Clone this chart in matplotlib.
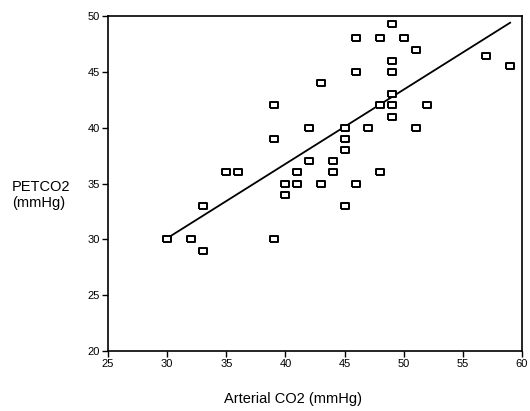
import matplotlib
matplotlib.use("Agg")
import matplotlib.pyplot as plt

plt.rcParams['font.family'] = ['Liberation Sans', 'DejaVu Sans']

# Data
arterial_co2 = [30, 32, 33, 33, 35, 36, 39, 39, 39, 40, 40, 41, 41, 42, 42,
                43, 43, 44, 44, 45, 45, 45, 45, 46, 46, 46, 47, 48, 48, 48,
                49, 49, 49, 49, 49, 49, 50, 51, 51, 52, 57, 59]
petco2 = [30, 30, 29, 33, 36, 36, 42, 39, 30, 35, 34, 36, 35, 40, 37,
          44, 35, 37, 36, 40, 39, 38, 33, 48, 45, 35, 40, 48, 42, 36,
          49.3, 46, 45, 43, 42, 41, 48, 47, 40, 42, 46.4, 45.5]

# regression line end points
fit_x = [30, 59]
fit_y = [30.1, 49.4]

x_ticks = [25, 30, 35, 40, 45, 50, 55, 60]
y_ticks = [20, 25, 30, 35, 40, 45, 50]

fig = plt.figure(figsize=(5.30, 4.11), dpi=100)
ax = fig.add_axes([0.2038, 0.146, 0.781, 0.815])

# slightly wide open rectangle marker like the scanned figure
rect = [(-1.25, -1), (1.25, -1), (1.25, 1), (-1.25, 1), (-1.25, -1)]

ax.plot(fit_x, fit_y, color='black', lw=1.3, zorder=2)
ax.plot(arterial_co2, petco2, linestyle='none', marker=rect, ms=6,
        mfc='white', mec='black', mew=1.4, zorder=3)

ax.set_xlim(25, 60)
ax.set_ylim(20, 50)
ax.set_xticks(x_ticks)
ax.set_yticks(y_ticks)
ax.tick_params(direction='out', length=4, width=1, labelsize=8, pad=2)

for side in ax.spines.values():
    side.set_linewidth(1.2)

fig.text(12 / 530, 1 - 195 / 411, 'PETCO2\n(mmHg)', ha='left', va='center',
         fontsize=10.5, linespacing=1.1)
fig.text(293 / 530, 1 - 399 / 411, 'Arterial CO2 (mmHg)', ha='center',
         va='center', fontsize=10.5)

fig.savefig('out.png', dpi=100)
